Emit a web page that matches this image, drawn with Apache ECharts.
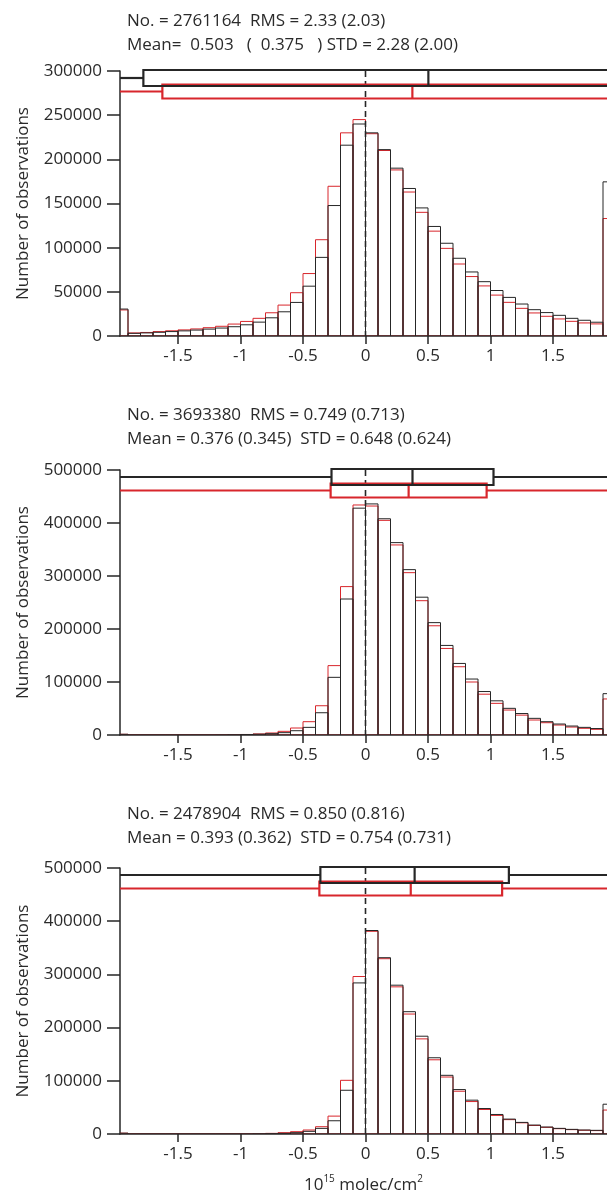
<!DOCTYPE html>
<html>
<head>
<meta charset="utf-8">
<script src="https://cdn.jsdelivr.net/npm/echarts@6/dist/echarts.min.js"></script>
<style>
html,body{margin:0;padding:0;background:#fff;}
#chart{width:607px;height:1195px;}
</style>
</head>
<body>
<div id="chart"></div>
<script>
// ---------- data ----------
const binStarts = [-2.0,-1.9,-1.8,-1.7,-1.6,-1.5,-1.4,-1.3,-1.2,-1.1,-1.0,-0.9,-0.8,-0.7,-0.6,-0.5,-0.4,-0.3,-0.2,-0.1,
                   0.0,0.1,0.2,0.3,0.4,0.5,0.6,0.7,0.8,0.9,1.0,1.1,1.2,1.3,1.4,1.5,1.6,1.7,1.8,1.9];
const binWidth = 0.1;

const panel1Black = [30500,3000,3500,4200,5000,5800,6700,7800,9000,10500,12700,15700,20600,27400,38000,56400,89000,147700,216000,240000,
                     230000,211000,190000,167000,145000,124000,105000,88000,72500,61500,51500,43700,36200,29800,26500,23400,20000,17800,15600,174500];
const panel1Red   = [29500,3500,4000,5000,5900,6900,8000,9400,11000,13500,16500,20000,26300,35000,49000,70700,109000,169500,230000,245000,
                     229000,210000,188000,163000,140000,118700,99200,81500,67300,56700,46300,38100,31300,26100,22300,19300,16600,14800,13700,133000];

const panel2Black = [1300,0,0,0,0,0,0,0,100,400,800,1500,2500,4400,8100,14400,42000,108800,256600,428000,
                     436000,408000,363000,312000,260000,212000,169000,135000,105600,82000,64500,50300,40500,31400,25100,20700,16900,14400,12200,78000];
const panel2Red   = [1300,0,0,0,0,0,0,0,150,500,1000,2000,3800,6900,13200,25100,55200,130900,280000,434000,
                     432000,405000,358600,306300,253400,206100,163300,128800,100000,77000,59700,47100,37500,28300,23200,18800,15000,12600,10700,68000];

const panel3Black = [1500,0,0,0,0,0,0,0,0,0,0,300,600,1200,2500,5000,10600,24900,82200,284000,
                     382500,331400,279700,229900,183800,143300,110300,83500,63600,47900,36700,28000,21800,16800,13100,10600,8700,7500,6900,56000];
const panel3Red   = [1500,0,0,0,0,0,0,0,0,0,100,600,1200,2500,4400,7500,13700,33600,100900,296000,
                     381000,329500,276600,225500,178800,139500,107100,80400,61000,46100,34900,27000,21000,16000,12500,10000,8200,7000,6400,45000];

const meanBlack = [0.503, 0.376, 0.393];
const stdBlack  = [2.28, 0.648, 0.754];
const meanRed   = [0.375, 0.345, 0.362];
const stdRed    = [2.00, 0.624, 0.731];

const panelTitles = [
  'No. = 2761164  RMS = 2.33 (2.03)\nMean=  0.503   (  0.375   ) STD = 2.28 (2.00)',
  'No. = 3693380  RMS = 0.749 (0.713)\nMean = 0.376 (0.345)  STD = 0.648 (0.624)',
  'No. = 2478904  RMS = 0.850 (0.816)\nMean = 0.393 (0.362)  STD = 0.754 (0.731)'
];
const yMaxes = [300000, 500000, 500000];
const yIntervals = [50000, 100000, 100000];
const xTickValues = [-1.5, -1, -0.5, 0, 0.5, 1, 1.5];
const xMin = -1.964, xMax = 1.932;
const yAxisName = 'Number of observations';
const xAxisNameParts = ['10', '15', ' molec/cm', '2'];

const blackSeries = [panel1Black, panel2Black, panel3Black];
const redSeries = [panel1Red, panel2Red, panel3Red];

// ---------- layout ----------
const FONT = '"Open Sans", sans-serif';
const TXT = '#2a2a2a';
const BLACK = '#262626';
const RED = '#d8262c';
const FS = 17;
const gridTops = [71, 470, 868];
const gridHeights = [265, 265, 266];
const titleTops = [4, 398, 797];

const chart = echarts.init(document.getElementById('chart'), null, {renderer: 'canvas'});

function barRenderer(color) {
  return function (params, api) {
    const x0 = api.value(0), v = api.value(1);
    const a = api.coord([x0, v]);
    const b = api.coord([x0 + binWidth, 0]);
    return {
      type: 'rect',
      shape: {x: a[0], y: a[1], width: b[0] - a[0], height: b[1] - a[1]},
      style: {fill: 'none', stroke: color, lineWidth: 1}
    };
  };
}

function boxRenderer(color, boxTop, boxBottom, whiskerY) {
  return function (params, api) {
    const cs = params.coordSys;
    const m = api.value(0), s = api.value(1);
    const xl = api.coord([m - s, 0])[0];
    const xr = api.coord([m + s, 0])[0];
    const xm = api.coord([m, 0])[0];
    const t = cs.y + boxTop, bt = cs.y + boxBottom, w = cs.y + whiskerY;
    const right = cs.x + cs.width + 10;
    const st = {stroke: color, lineWidth: 2.2, fill: 'none'};
    const children = [];
    children.push({type: 'line', shape: {x1: cs.x, y1: w, x2: xl, y2: w}, style: st});
    if (xr < right) children.push({type: 'line', shape: {x1: xr, y1: w, x2: right, y2: w}, style: st});
    children.push({type: 'rect', shape: {x: xl, y: t, width: Math.min(xr, right) - xl, height: bt - t}, style: st});
    children.push({type: 'line', shape: {x1: xm, y1: t, x2: xm, y2: bt}, style: st});
    return {type: 'group', children: children};
  };
}

function zeroRenderer(params, api) {
  const cs = params.coordSys;
  const x = api.coord([api.value(0), 0])[0];
  return {
    type: 'line',
    shape: {x1: x, y1: cs.y, x2: x, y2: cs.y + cs.height},
    style: {stroke: BLACK, lineWidth: 1.6, lineDash: [6, 4]}
  };
}

const grids = [], xAxes = [], yAxes = [], series = [], titles = [];
for (let i = 0; i < 3; i++) {
  grids.push({left: 120, right: 0, top: gridTops[i], height: gridHeights[i], containLabel: false, outerBoundsMode: 'none'});
  titles.push({
    text: panelTitles[i], left: 122, top: titleTops[i],
    textStyle: {fontFamily: FONT, fontSize: FS, fontWeight: 'normal', color: TXT, lineHeight: 24}
  });
  const xa = {
    type: 'value', gridIndex: i, min: xMin, max: xMax,
    axisLine: {show: true, onZero: false, lineStyle: {color: BLACK, width: 1.5}},
    axisTick: {show: true, customValues: xTickValues, length: 8, lineStyle: {color: BLACK, width: 1.5}},
    axisLabel: {show: true, customValues: xTickValues, margin: 12, fontFamily: FONT, fontSize: FS, color: TXT},
    splitLine: {show: false}
  };
  if (i === 2) {
    xa.name = '{n|' + xAxisNameParts[0] + '}{s|' + xAxisNameParts[1] + '}{n|' + xAxisNameParts[2] + '}{s|' + xAxisNameParts[3] + '}';
    xa.nameLocation = 'middle';
    xa.nameGap = 40;
    xa.nameTextStyle = {
      fontFamily: FONT, fontSize: FS, color: TXT, lineHeight: 20,
      rich: {
        n: {fontFamily: FONT, fontSize: FS, color: TXT, lineHeight: 20, verticalAlign: 'bottom'},
        s: {fontFamily: FONT, fontSize: 10, color: TXT, lineHeight: 20, verticalAlign: 'top'}
      }
    };
  }
  xAxes.push(xa);
  yAxes.push({
    type: 'value', gridIndex: i, min: 0, max: yMaxes[i], interval: yIntervals[i],
    name: yAxisName, nameLocation: 'middle', nameGap: 88,
    nameTextStyle: {fontFamily: FONT, fontSize: FS, color: TXT},
    axisLine: {show: true, onZero: false, lineStyle: {color: BLACK, width: 1.5}},
    axisTick: {show: true, length: 13, lineStyle: {color: BLACK, width: 1.5}},
    axisLabel: {show: true, margin: 18, fontFamily: FONT, fontSize: FS, color: TXT,
                formatter: function (v) { return String(v); }},
    splitLine: {show: false}
  });
  const redData = binStarts.map((b, k) => [b, redSeries[i][k]]);
  const blackData = binStarts.map((b, k) => [b, blackSeries[i][k]]);
  series.push({type: 'custom', xAxisIndex: i, yAxisIndex: i, clip: true, z: 2,
               renderItem: barRenderer(RED), data: redData, silent: true});
  series.push({type: 'custom', xAxisIndex: i, yAxisIndex: i, clip: true, z: 3,
               renderItem: barRenderer(BLACK), data: blackData, silent: true});
  series.push({type: 'custom', xAxisIndex: i, yAxisIndex: i, clip: false, z: 4,
               renderItem: zeroRenderer, data: [[0, 0]], silent: true});
  series.push({type: 'custom', xAxisIndex: i, yAxisIndex: i, clip: false, z: 5,
               renderItem: boxRenderer(RED, 13.5, 27.5, 20.5), data: [[meanRed[i], stdRed[i]]], silent: true});
  series.push({type: 'custom', xAxisIndex: i, yAxisIndex: i, clip: false, z: 6,
               renderItem: boxRenderer(BLACK, -1, 15, 7), data: [[meanBlack[i], stdBlack[i]]], silent: true});
}

chart.setOption({
  animation: false,
  backgroundColor: '#fff',
  title: titles,
  grid: grids,
  xAxis: xAxes,
  yAxis: yAxes,
  series: series
});
</script>
</body>
</html>
